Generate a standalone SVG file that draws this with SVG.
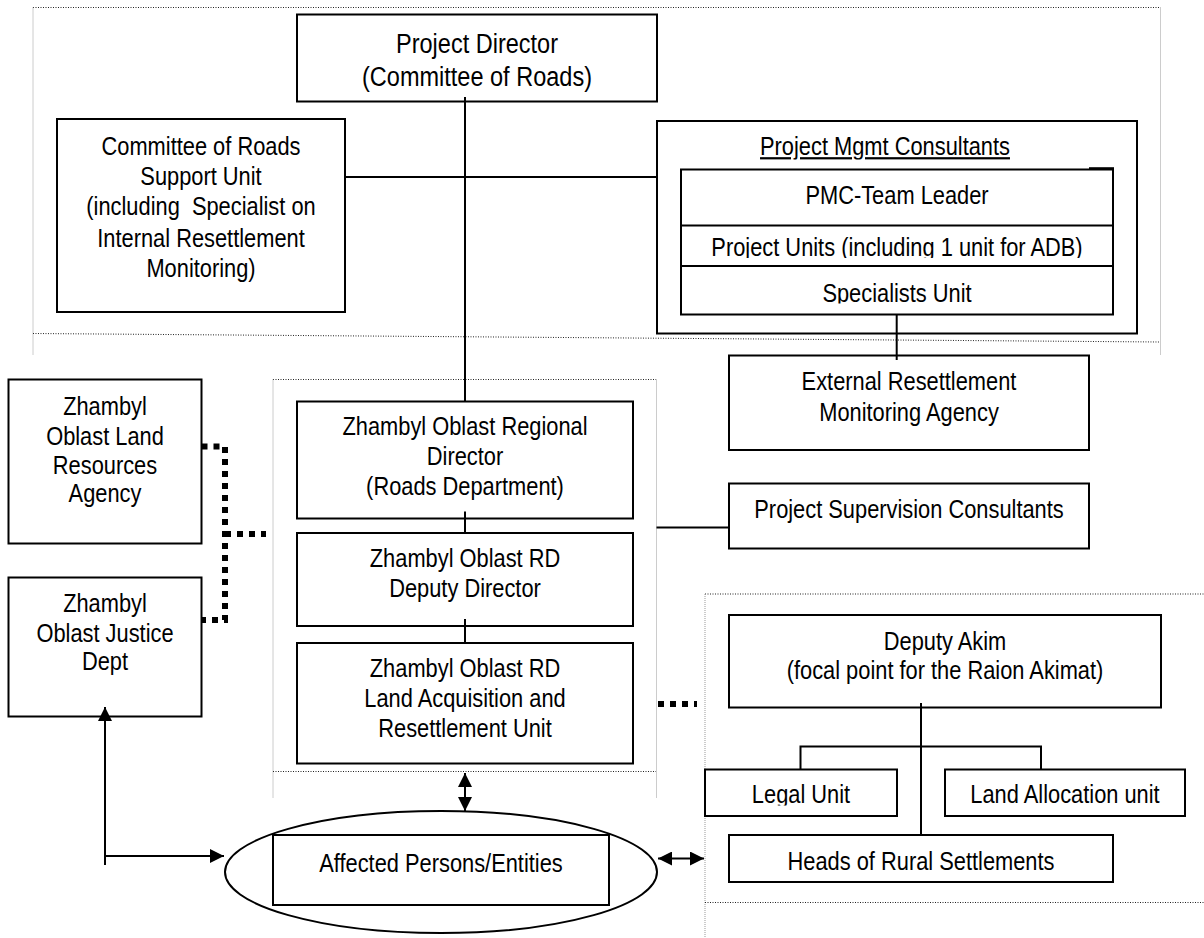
<svg xmlns="http://www.w3.org/2000/svg" width="1204" height="938" viewBox="0 0 1204 938">
<style>
.box{fill:#fff;stroke:#000;stroke-width:2}
.ln{fill:none;stroke:#000;stroke-width:2}
.dh{fill:none;stroke:#222;stroke-width:1;stroke-dasharray:1 1.5}
.dv{fill:none;stroke:#999;stroke-width:1;stroke-dasharray:1 1}
.thick{fill:none;stroke:#000;stroke-width:6;stroke-dasharray:6 6}
text{font-family:"Liberation Sans",Arial,sans-serif;font-size:26px;text-anchor:middle;fill:#000}
.big{font-size:28px}
</style>
<defs>
<marker id="arr" viewBox="0 0 14 14" refX="14" refY="7" markerWidth="14" markerHeight="14" markerUnits="userSpaceOnUse" orient="auto-start-reverse">
<path d="M0,0 L14,7 L0,14 z" fill="#000"/>
</marker>
<clipPath id="cPU"><rect x="681" y="226" width="432" height="32"/></clipPath>
<clipPath id="cSU"><rect x="681" y="267" width="432" height="36.5"/></clipPath>
<clipPath id="cT"><rect x="660" y="125" width="470" height="34.5"/></clipPath>
<clipPath id="cLU"><rect x="700" y="770" width="490" height="35.5"/></clipPath>
</defs>

<g id="frames">
<path class="dh" d="M33,7.5 H1160"/>
<path class="dv" d="M33,7.5 V355"/>
<path class="dv" d="M1160.5,7.5 V355"/>
<path class="dh" d="M33,333.5 L1160,342"/>
<path class="dh" d="M273,379.5 H656"/>
<path class="dv" d="M273,379.5 V798"/>
<path class="dv" d="M656.5,379.5 V798"/>
<path class="dh" d="M273,771.5 H656"/>
<path class="dh" d="M705,594 H1204"/>
<path class="dv" d="M705,594 V938"/>
<path class="dh" d="M705,902.5 H1204"/>
</g>

<g id="project-director">
<rect class="box" x="297" y="14.5" width="360" height="87"/>
<text class="big" transform="translate(477 53) scale(0.84 1)">Project Director</text>
<text class="big" transform="translate(477 86) scale(0.84 1)">(Committee of Roads)</text>
</g>

<g id="cor-support-unit">
<rect class="box" x="57" y="119" width="288" height="193"/>
<text transform="translate(201 155) scale(0.84 1)">Committee of Roads</text>
<text transform="translate(201 185) scale(0.84 1)">Support Unit</text>
<text transform="translate(201 215) scale(0.84 1)" xml:space="preserve">(including  Specialist on</text>
<text transform="translate(201 246.5) scale(0.84 1)">Internal Resettlement</text>
<text transform="translate(201 276.5) scale(0.84 1)">Monitoring)</text>
</g>

<g id="pmc">
<rect class="box" x="657" y="121" width="480" height="212.5"/>
<g clip-path="url(#cT)"><text transform="translate(885 155) scale(0.84 1)" text-decoration="underline">Project Mgmt Consultants</text></g>
<rect class="box" x="681" y="169.5" width="432" height="145"/>
<path class="ln" d="M681,225.5 H1113 M681,266 H1113"/>
<path class="ln" d="M1089,168.2 H1114" stroke-width="2.5"/>
<text transform="translate(897 204) scale(0.84 1)">PMC-Team Leader</text>
<g clip-path="url(#cPU)"><text transform="translate(897 256) scale(0.84 1)">Project Units (including 1 unit for ADB)</text></g>
<g clip-path="url(#cSU)"><text transform="translate(897 302) scale(0.84 1)">Specialists Unit</text></g>
</g>

<g id="erma">
<rect class="box" x="729" y="355.5" width="360" height="94.5"/>
<text transform="translate(909 390) scale(0.84 1)">External Resettlement</text>
<text transform="translate(909 421) scale(0.84 1)">Monitoring Agency</text>
</g>

<g id="psc">
<rect class="box" x="729" y="483.5" width="360" height="65"/>
<text transform="translate(909 518) scale(0.84 1)">Project Supervision Consultants</text>
</g>

<g id="regional-director">
<rect class="box" x="297" y="401.5" width="336" height="117"/>
<text transform="translate(465 435) scale(0.84 1)">Zhambyl Oblast Regional</text>
<text transform="translate(465 465) scale(0.84 1)">Director</text>
<text transform="translate(465 495) scale(0.84 1)">(Roads Department)</text>
</g>

<g id="deputy-director">
<rect class="box" x="297" y="533" width="336" height="93"/>
<text transform="translate(465 567) scale(0.84 1)">Zhambyl Oblast RD</text>
<text transform="translate(465 597) scale(0.84 1)">Deputy Director</text>
</g>

<g id="lar-unit">
<rect class="box" x="297" y="643" width="336" height="120.5"/>
<text transform="translate(465 677) scale(0.84 1)">Zhambyl Oblast RD</text>
<text transform="translate(465 707) scale(0.84 1)">Land Acquisition and</text>
<text transform="translate(465 737) scale(0.84 1)">Resettlement Unit</text>
</g>

<g id="land-resources">
<rect class="box" x="8.5" y="379.5" width="193" height="164"/>
<text transform="translate(105 415) scale(0.84 1)">Zhambyl</text>
<text transform="translate(105 445) scale(0.84 1)">Oblast Land</text>
<text transform="translate(105 474) scale(0.84 1)">Resources</text>
<text transform="translate(105 502) scale(0.84 1)">Agency</text>
</g>

<g id="justice">
<rect class="box" x="8.5" y="577.5" width="193" height="139"/>
<text transform="translate(105 612) scale(0.84 1)">Zhambyl</text>
<text transform="translate(105 642) scale(0.84 1)">Oblast Justice</text>
<text transform="translate(105 670) scale(0.84 1)">Dept</text>
</g>

<g id="affected">
<ellipse class="box" cx="441" cy="872" rx="216" ry="61"/>
<rect class="box" x="273" y="835" width="336" height="70"/>
<text transform="translate(441 872) scale(0.84 1)">Affected Persons/Entities</text>
</g>

<g id="deputy-akim">
<rect class="box" x="729" y="615" width="432" height="92.5"/>
<text transform="translate(945 650) scale(0.84 1)">Deputy Akim</text>
<text transform="translate(945 679) scale(0.84 1)">(focal point for the Raion Akimat)</text>
</g>

<g id="legal-unit">
<rect class="box" x="705" y="769.5" width="192" height="46.5"/>
<g clip-path="url(#cLU)"><text transform="translate(801 803) scale(0.84 1)">Legal Unit</text></g>
</g>

<g id="land-allocation">
<rect class="box" x="945" y="769.5" width="240" height="46.5"/>
<g clip-path="url(#cLU)"><text transform="translate(1065 803) scale(0.84 1)">Land Allocation unit</text></g>
</g>

<g id="heads">
<rect class="box" x="729" y="835" width="384" height="47"/>
<text transform="translate(921 870) scale(0.84 1)">Heads of Rural Settlements</text>
</g>

<g id="connectors">
<path class="ln" d="M465,97 V401.5"/>
<path class="ln" d="M345,177 H657"/>
<path class="ln" d="M896.7,314 V360"/>
<path class="ln" d="M465,511.5 V533 M465,619 V643"/>
<path class="ln" d="M656.5,527.5 H729"/>
<path class="ln" d="M921,703 V835"/>
<path class="ln" d="M800.5,769.5 V746.5 H1041 V769.5"/>
<path class="thick" d="M201.5,446.5 H225 V620 H201.5"/>
<path class="thick" d="M225,534 H266"/>
<path class="thick" d="M658,704 H697" stroke-width="7" stroke-dasharray="8 5"/>
<path class="ln" d="M105,865 V707" marker-end="url(#arr)"/>
<path class="ln" d="M105,856 H224" marker-end="url(#arr)"/>
<path class="ln" d="M465,773 V811" marker-start="url(#arr)" marker-end="url(#arr)"/>
<path class="ln" d="M658,858.5 H704" marker-start="url(#arr)" marker-end="url(#arr)"/>
</g>
</svg>
